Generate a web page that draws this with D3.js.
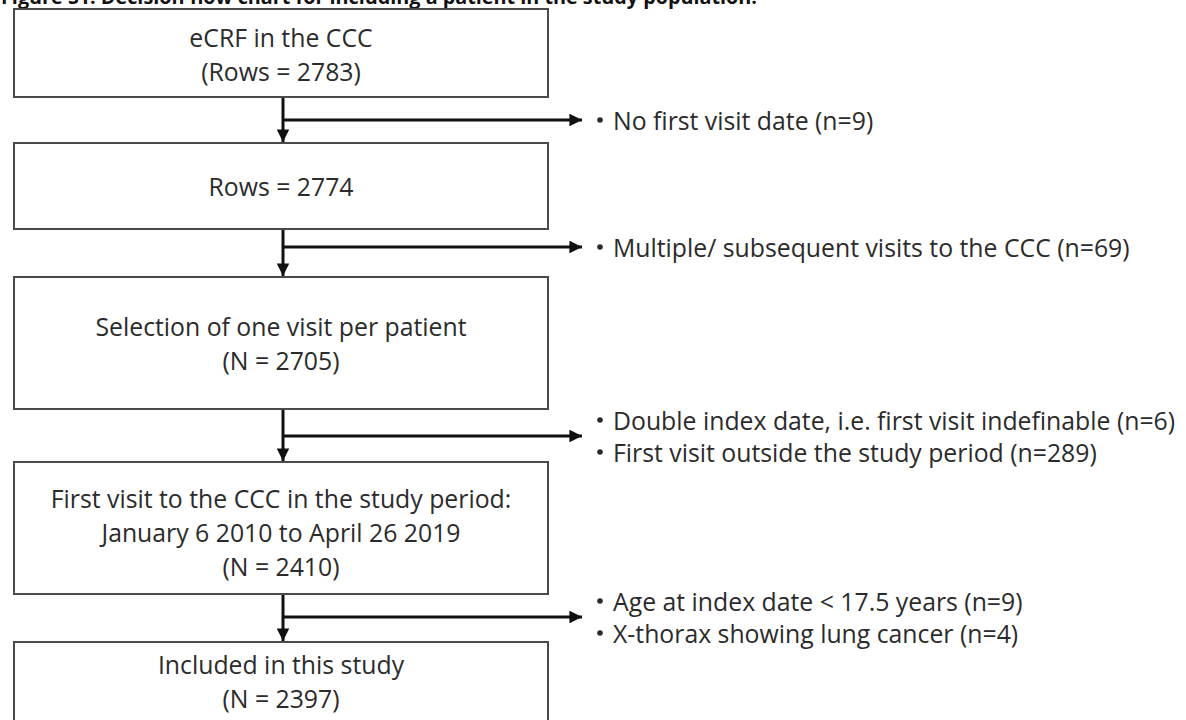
<!DOCTYPE html>
<html>
<head>
<meta charset="utf-8">
<script src="https://cdn.jsdelivr.net/npm/d3@7"></script>
<style>
  html, body { margin: 0; padding: 0; background: #fff; }
  svg { display: block; }
</style>
</head>
<body>
<svg id="chart" width="1186" height="720"></svg>
<script>
// ---- data ----
const title = "Figure S1. Decision flow chart for including a patient in the study population.";
const stepLabels = [
  ["eCRF in the CCC", "(Rows = 2783)"],
  ["Rows = 2774"],
  ["Selection of one visit per patient", "(N = 2705)"],
  ["First visit to the CCC in the study period:", "January 6 2010 to April 26 2019", "(N = 2410)"],
  ["Included in this study", "(N = 2397)"]
];
const exclusionLabels = [
  ["No first visit date (n=9)"],
  ["Multiple/ subsequent visits to the CCC (n=69)"],
  ["Double index date, i.e. first visit indefinable (n=6)", "First visit outside the study period (n=289)"],
  ["Age at index date < 17.5 years (n=9)", "X-thorax showing lung cancer (n=4)"]
];

// ---- layout (pixel units of the flow area) ----
const boxTops =    [9, 143, 277, 462, 642];
const boxBottoms = [97, 229, 409, 594, 724];
const textCenters = [54, 186, 343, 532, 681];
const arrowYs = [120, 247, 436, 617];

const svg = d3.select("#chart");
const x = d3.scaleLinear().domain([0, 1]).range([14, 548]);
const y = d3.scaleLinear().domain([0, 720]).range([0, 720]);
const connectorX = 283;
const arrowEnd = 582;
const bulletX = 600;
const textX = 613;
const boxLineH = 34;
const exLineH = 32;
const font = "'Open Sans', Lato, sans-serif";
const fontSize = 24.8;
const textColor = "#2b2b2b";

const defs = svg.append("defs");
defs.append("marker")
  .attr("id", "ah")
  .attr("viewBox", "0 0 10 10")
  .attr("refX", 10).attr("refY", 5)
  .attr("markerWidth", 4.4).attr("markerHeight", 4.2)
  .attr("markerUnits", "strokeWidth")
  .attr("orient", "auto")
  .append("path").attr("d", "M0,0 L10,5 L0,10 Z").attr("fill", "#111");

// title (cut off at the top, as in the source figure)
svg.append("text")
  .attr("x", 1).attr("y", 4)
  .attr("font-family", font)
  .attr("font-weight", "bold")
  .attr("font-size", 19.8)
  .attr("fill", "#111")
  .text(title);

// boxes
const boxes = svg.selectAll("g.box").data(stepLabels).join("g").attr("class", "box");
boxes.append("rect")
  .attr("x", x(0))
  .attr("y", (d, i) => y(boxTops[i]))
  .attr("width", x(1) - x(0))
  .attr("height", (d, i) => y(boxBottoms[i]) - y(boxTops[i]))
  .attr("fill", "#fff")
  .attr("stroke", "#4a4a4a")
  .attr("stroke-width", 2);
boxes.each(function(lines, i) {
  const g = d3.select(this);
  g.selectAll("text").data(lines).join("text")
    .attr("x", (x(0) + x(1)) / 2)
    .attr("y", (d, j) => y(textCenters[i] + (j - (lines.length - 1) / 2) * boxLineH))
    .attr("text-anchor", "middle")
    .attr("dominant-baseline", "central")
    .attr("font-family", font)
    .attr("font-size", fontSize)
    .attr("fill", textColor)
    .text(d => d);
});

// vertical connectors
svg.selectAll("line.vert").data(d3.range(stepLabels.length - 1)).join("line")
  .attr("class", "vert")
  .attr("x1", connectorX).attr("x2", connectorX)
  .attr("y1", i => y(boxBottoms[i]) + 1)
  .attr("y2", i => y(boxTops[i + 1]) - 1)
  .attr("stroke", "#111").attr("stroke-width", 3)
  .attr("marker-end", "url(#ah)");

// horizontal arrows
svg.selectAll("line.horiz").data(arrowYs).join("line")
  .attr("class", "horiz")
  .attr("x1", connectorX).attr("x2", arrowEnd)
  .attr("y1", d => y(d)).attr("y2", d => y(d))
  .attr("stroke", "#111").attr("stroke-width", 3)
  .attr("marker-end", "url(#ah)");

// exclusion bullets
const ex = svg.selectAll("g.ex").data(exclusionLabels).join("g").attr("class", "ex");
ex.each(function(lines, i) {
  const g = d3.select(this);
  lines.forEach((t, j) => {
    const ly = y(arrowYs[i] + (j - (lines.length - 1) / 2) * exLineH);
    g.append("circle").attr("cx", bulletX).attr("cy", ly).attr("r", 2.8).attr("fill", textColor);
    g.append("text")
      .attr("x", textX).attr("y", ly)
      .attr("dominant-baseline", "central")
      .attr("font-family", font)
      .attr("font-size", fontSize)
      .attr("fill", textColor)
      .text(t);
  });
});
</script>
</body>
</html>
